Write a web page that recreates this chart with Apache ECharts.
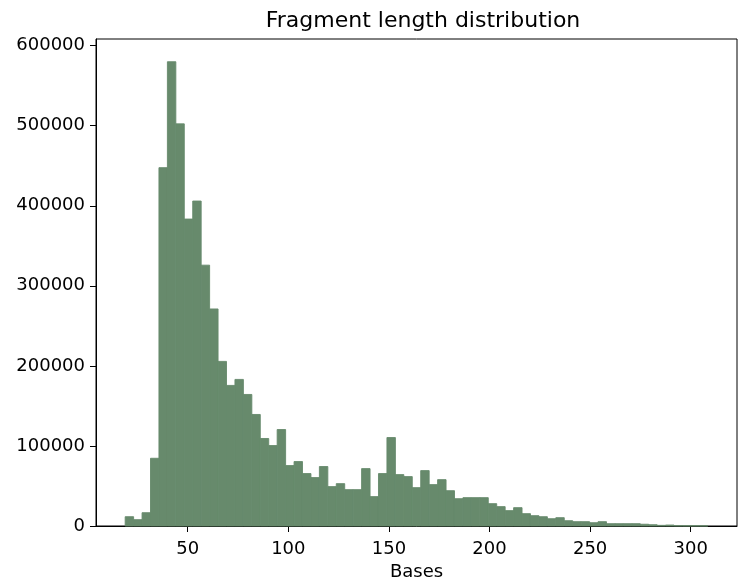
<!DOCTYPE html>
<html lang="en">
<head>
    <meta charset="UTF-8">
    <title>Fragment length distribution</title>
    <script src="https://cdn.jsdelivr.net/npm/echarts@6/dist/echarts.min.js"></script>
    <style>
        body { margin: 0; background: #fff; }
    </style>
</head>
<body>
    <div id="main" style="width: 738px;height:580px;"></div>
    <script type="text/javascript">
        // histogram: 69 bins starting at ~18.9 bases, each ~4.2 bases wide
        const binStart = 18.9;
        const binWidth = 4.197;
        const counts = [
            11600, 7900, 16600, 84600, 447600, 579900, 502300, 383400, 405900, 325800,
            271100, 205600, 175600, 183100, 164300, 139300, 109300, 100500, 120500, 75500,
            80500, 65500, 60500, 74300, 49200, 52900, 45400, 45400, 71700, 36700,
            65500, 110500, 64200, 61700, 47900, 69200, 51700, 57900, 44100, 34100,
            35400, 35400, 35400, 27900, 24200, 19200, 22900, 15400, 12900, 11600,
            9100, 10400, 6600, 5400, 5400, 4100, 5400, 2900, 2900, 2900,
            2900, 2200, 1600, 800, 1200, 400, 300, 300, 200
        ];
        const xTicks = [50, 100, 150, 200, 250, 300];
        const yTicks = [0, 100000, 200000, 300000, 400000, 500000, 600000];

        const barColor = '#678a6c';
        const font = 'DejaVu Sans';

        // [left edge, right edge, count] for each bin
        const bins = counts.map((c, i) => [binStart + i * binWidth, binStart + (i + 1) * binWidth, c]);

        let myChart = echarts.init(document.getElementById('main'));

        let options = {
            animation: false,
            title: {
                text: 'Fragment length distribution',
                left: 418,
                top: 5,
                textAlign: 'center',
                textStyle: { fontFamily: font, fontSize: 22, fontWeight: 'normal', color: '#000' }
            },
            grid: {
                left: 96, right: 1, top: 39, bottom: 54,
                outerBoundsMode: 'none',
                containLabel: false,
                show: true, borderColor: '#000', borderWidth: 1, backgroundColor: 'transparent'
            },
            xAxis: {
                type: 'value',
                min: 4.4,
                max: 323,
                name: 'Bases',
                nameLocation: 'middle',
                nameGap: 37,
                nameTextStyle: { fontFamily: font, fontSize: 18, color: '#000' },
                axisLine: { show: true, lineStyle: { color: '#000', width: 1 } },
                axisTick: { show: true, length: 6, customValues: xTicks, lineStyle: { color: '#000' } },
                axisLabel: { customValues: xTicks, margin: 14, fontFamily: font, fontSize: 18, color: '#000' },
                splitLine: { show: false }
            },
            yAxis: {
                type: 'value',
                min: 0,
                max: 608300,
                axisLine: { show: true, lineStyle: { color: '#000', width: 1 } },
                axisTick: { show: true, length: 6, customValues: yTicks, lineStyle: { color: '#000' } },
                axisLabel: {
                    customValues: yTicks, margin: 11, fontFamily: font, fontSize: 18, color: '#000',
                    formatter: v => String(v)
                },
                splitLine: { show: false }
            },
            series: [{
                type: 'custom',
                data: bins,
                renderItem: function (params, api) {
                    const topLeft = api.coord([api.value(0), api.value(2)]);
                    const bottomRight = api.coord([api.value(1), 0]);
                    return {
                        type: 'rect',
                        shape: {
                            x: topLeft[0],
                            y: topLeft[1],
                            width: bottomRight[0] - topLeft[0],
                            height: bottomRight[1] - topLeft[1]
                        },
                        // thin stroke in the fill colour hides seams between neighbouring bins
                        style: { fill: barColor, stroke: barColor, lineWidth: 0.9 }
                    };
                }
            }]
        };

        myChart.setOption(options);
    </script>
</body>
</html>
